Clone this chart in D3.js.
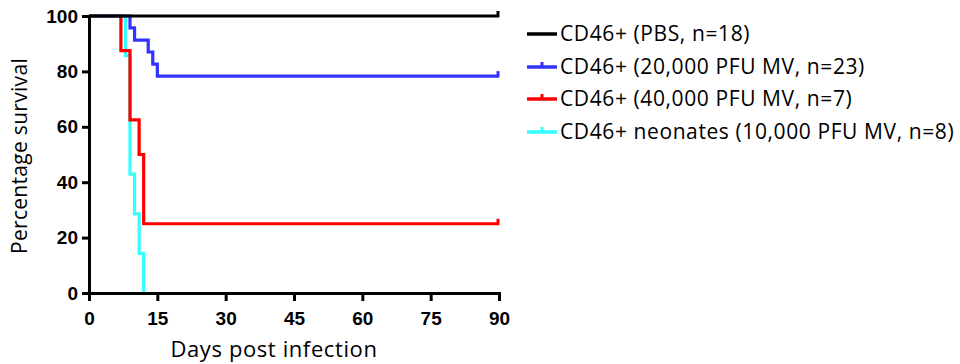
<!DOCTYPE html>
<html>
<head>
<meta charset="utf-8">
<script src="https://cdn.jsdelivr.net/npm/d3@7"></script>
<style>
  body { margin: 0; background: #fff; }
  svg { display: block; }
</style>
</head>
<body>
<div id="chart"></div>
<script>
// survival data (days, % surviving)
const pbsDays = [0, 90];
const pbsSurv = [100, 100];
const mv20Days = [0, 9, 10, 13, 14, 15, 90];
const mv20Surv = [100, 95.7, 91.3, 87.0, 82.6, 78.3, 78.3];
const mv40Days = [0, 7, 9, 11, 12, 90];
const mv40Surv = [100, 87.5, 62.5, 50, 25, 25];
const neoDays = [0, 8, 9, 10, 11, 12];
const neoSurv = [100, 85.7, 42.9, 28.6, 14.3, 0];

const seriesNames = [
  'CD46+ (PBS, n=18)',
  'CD46+ (20,000 PFU MV, n=23)',
  'CD46+ (40,000 PFU MV, n=7)',
  'CD46+ neonates (10,000 PFU MV, n=8)'
];
const seriesColors = ['#000000', '#3333ff', '#ff0000', '#33ffff'];
const xTicks = [0, 15, 30, 45, 60, 75, 90];
const yTicks = [0, 20, 40, 60, 80, 100];

const width = 960, height = 364;
const margin = { top: 16, left: 89, right: 461, bottom: 71 };

const series = [
  { name: seriesNames[0], color: seriesColors[0], days: pbsDays, surv: pbsSurv, censor: true, mark: false },
  { name: seriesNames[1], color: seriesColors[1], days: mv20Days, surv: mv20Surv, censor: true, mark: true },
  { name: seriesNames[2], color: seriesColors[2], days: mv40Days, surv: mv40Surv, censor: true, mark: true },
  { name: seriesNames[3], color: seriesColors[3], days: neoDays, surv: neoSurv, censor: false, mark: true }
];

const svg = d3.select('#chart').append('svg')
  .attr('width', width)
  .attr('height', height);

const x = d3.scaleLinear().domain([0, 90]).range([margin.left, width - margin.right]);
const y = d3.scaleLinear().domain([0, 100]).range([height - margin.bottom, margin.top]);

const line = d3.line()
  .x(d => x(d[0]))
  .y(d => y(d[1]))
  .curve(d3.curveStepAfter);

// draw in reverse so black sits on top, cyan underneath
series.slice().reverse().forEach(s => {
  const pts = s.days.map((d, i) => [d, s.surv[i]]);
  svg.append('path')
    .datum(pts)
    .attr('fill', 'none')
    .attr('stroke', s.color)
    .attr('stroke-width', 3.2)
    .attr('d', line);
  if (s.censor) {
    const last = pts[pts.length - 1];
    svg.append('line')
      .attr('x1', x(last[0]) - 1)
      .attr('x2', x(last[0]) - 1)
      .attr('y1', y(last[1]) + 1)
      .attr('y2', y(last[1]) - 5)
      .attr('stroke', s.color)
      .attr('stroke-width', 3);
  }
});

// axes
const xAxis = svg.append('g')
  .attr('transform', `translate(0,${y(0)})`)
  .call(d3.axisBottom(x).tickValues(xTicks).tickSize(8).tickSizeOuter(0).tickPadding(11));

const yAxis = svg.append('g')
  .attr('transform', `translate(${x(0)},0)`)
  .call(d3.axisLeft(y).tickValues(yTicks).tickSize(7).tickSizeOuter(0).tickPadding(4));

[xAxis, yAxis].forEach(g => {
  g.select('.domain').attr('stroke', '#000').attr('stroke-width', 3).attr('stroke-linecap', 'square');
  g.selectAll('.tick line').attr('stroke', '#000').attr('stroke-width', 3);
  g.selectAll('.tick text')
    .attr('fill', '#000')
    .style('font-family', '"Liberation Sans", Arial, sans-serif')
    .style('font-weight', 'bold')
    .style('font-size', '19px');
});

// axis titles
svg.append('text')
  .attr('x', 274)
  .attr('y', 357)
  .attr('text-anchor', 'middle')
  .style('font-family', '"Open Sans", sans-serif')
  .style('font-size', '22px')
  .style('letter-spacing', '0.6px')
  .text('Days post infection');

svg.append('text')
  .attr('transform', 'translate(27,156) rotate(-90)')
  .attr('text-anchor', 'middle')
  .style('font-family', '"Open Sans", sans-serif')
  .style('font-size', '21px')
  .style('letter-spacing', '0.3px')
  .text('Percentage survival');

// legend
const legend = svg.append('g');
const rowY = [34, 67, 99, 132];
series.forEach((s, i) => {
  const g = legend.append('g').attr('transform', `translate(527,${rowY[i]})`);
  g.append('line')
    .attr('x1', 0).attr('x2', 30)
    .attr('y1', 0).attr('y2', 0)
    .attr('stroke', s.color)
    .attr('stroke-width', 3.5);
  if (s.mark) {
    g.append('line')
      .attr('x1', 15).attr('x2', 15)
      .attr('y1', 0).attr('y2', -5)
      .attr('stroke', s.color)
      .attr('stroke-width', 3);
  }
  g.append('text')
    .attr('x', 33)
    .attr('y', 7)
    .style('font-family', '"Open Sans", sans-serif')
    .style('font-size', '21px')
    .style('letter-spacing', '0.6px')
    .text(s.name);
});
</script>
</body>
</html>
